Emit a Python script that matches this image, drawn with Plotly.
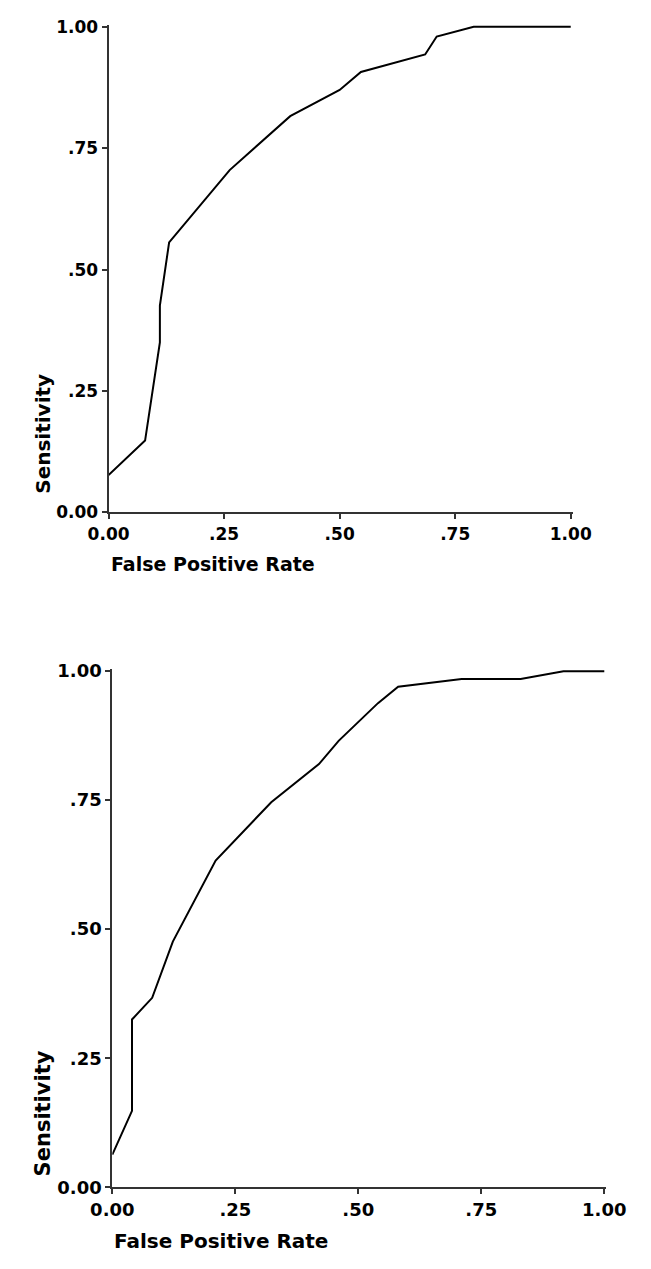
import plotly.graph_objects as go

# Top ROC curve
fpr_top = [0.0, 0.079, 0.111, 0.111, 0.131, 0.262, 0.393, 0.50, 0.546, 0.685, 0.71, 0.79, 1.0]
sens_top = [0.077, 0.148, 0.35, 0.426, 0.556, 0.705, 0.816, 0.87, 0.907, 0.943, 0.98, 1.0, 1.0]

# Bottom ROC curve
fpr_bot = [0.0, 0.04, 0.04, 0.081, 0.123, 0.21, 0.323, 0.42, 0.46, 0.54, 0.581, 0.71, 0.83, 0.917, 1.0]
sens_bot = [0.063, 0.148, 0.325, 0.367, 0.476, 0.633, 0.746, 0.82, 0.865, 0.938, 0.97, 0.985, 0.985, 1.0, 1.0]

tick_vals = [0, 0.25, 0.5, 0.75, 1.0]
tick_text = ["0.00", ".25", ".50", ".75", "1.00"]

W, H = 651, 1269
OFF = 8  # the page body adds an 8px margin; compensate so marks land where intended
FONT = "DejaVu Sans, Verdana, sans-serif"


def px(v):
    return (v - OFF) / W


def py(v):
    return 1 - (v - OFF) / H


fig = go.Figure()
fig.add_trace(go.Scatter(x=fpr_top, y=sens_top, mode="lines",
                         line=dict(color="black", width=2), xaxis="x", yaxis="y",
                         showlegend=False, hoverinfo="skip"))
fig.add_trace(go.Scatter(x=fpr_bot, y=sens_bot, mode="lines",
                         line=dict(color="black", width=2), xaxis="x2", yaxis="y2",
                         showlegend=False, hoverinfo="skip"))


def ax(domain, anchor, size):
    return dict(domain=domain, anchor=anchor, range=[0, 1.004], tickvals=tick_vals, ticktext=tick_text,
                showgrid=False, zeroline=False, showline=True, linecolor="#333333", linewidth=2,
                ticks="outside", ticklen=5, tickwidth=2, tickcolor="#333333",
                tickfont=dict(family=FONT, size=size, color="black", weight="bold"),
                fixedrange=True)


top_x = [px(92), px(588)]
top_y = [py(511), py(16)]
bot_x = [px(96), px(624)]
bot_y = [py(1196), py(670)]

fig.update_layout(
    width=W, height=H,
    margin=dict(l=0, r=0, t=0, b=0),
    paper_bgcolor="white", plot_bgcolor="white",
    xaxis=ax(top_x, "y", 17), yaxis=ax(top_y, "x", 17),
    xaxis2=ax(bot_x, "y2", 18), yaxis2=ax(bot_y, "x2", 18),
)


def tf(size):
    return dict(family=FONT, size=size, color="black", weight="bold")


annotations = [
    dict(text="False Positive Rate", x=px(92), y=py(563), xref="paper", yref="paper",
         xanchor="left", yanchor="middle", showarrow=False, font=tf(19)),
    dict(text="Sensitivity", x=px(22), y=py(431), xref="paper", yref="paper",
         xanchor="center", yanchor="middle", textangle=-90, showarrow=False, font=tf(20)),
    dict(text="False Positive Rate", x=px(96), y=py(1251), xref="paper", yref="paper",
         xanchor="left", yanchor="middle", showarrow=False, font=tf(20)),
    dict(text="Sensitivity", x=px(22), y=py(1121), xref="paper", yref="paper",
         xanchor="center", yanchor="middle", textangle=-90, showarrow=False, font=tf(21)),
]
fig.update_layout(annotations=annotations)

fig.write_html("out.html")
